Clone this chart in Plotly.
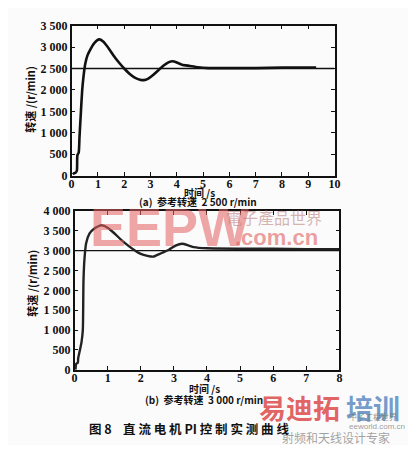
import plotly.graph_objects as go

# ---- data ----
t_a = [0.05, 0.1, 0.15, 0.2, 0.22, 0.27, 0.3, 0.35, 0.4, 0.45, 0.52, 0.6, 0.7, 0.87,
       1.05, 1.2, 1.4, 1.6, 1.8, 2.0, 2.2, 2.4, 2.6, 2.75, 2.9, 3.1, 3.3, 3.5, 3.7,
       3.85, 4.0, 4.2, 4.5, 4.8, 5.2, 6.0, 7.0, 8.0, 9.0, 9.3]
n_a = [30, 60, 70, 120, 474, 540, 900, 1445, 1970, 2300, 2610, 2800, 2930, 3100,
       3180, 3130, 2980, 2800, 2640, 2500, 2380, 2290, 2240, 2230, 2260, 2350, 2460, 2570, 2650,
       2670, 2640, 2590, 2560, 2530, 2510, 2510, 2510, 2520, 2520, 2520]
ref_a = 2500

t_b = [0.03, 0.05, 0.1, 0.11, 0.16, 0.21, 0.25, 0.27, 0.3, 0.35, 0.45, 0.6, 0.82,
       1.0, 1.2, 1.4, 1.6, 1.8, 2.0, 2.2, 2.37, 2.6, 2.86, 3.05, 3.25, 3.45, 3.6,
       4.0, 5.0, 6.0, 7.0, 8.0]
n_b = [0, 150, 180, 290, 485, 690, 1000, 2230, 2790, 3190, 3430, 3560, 3640,
       3580, 3440, 3280, 3140, 3020, 2920, 2870, 2850, 2930, 3030, 3130, 3175, 3130, 3090,
       3060, 3050, 3050, 3040, 3040]
ref_b = 3000

ticks_a_y = [0, 500, 1000, 1500, 2000, 2500, 3000, 3500]
ticks_a_x = list(range(0, 11))
ticks_b_y = [0, 500, 1000, 1500, 2000, 2500, 3000, 3500, 4000]
ticks_b_x = list(range(0, 9))


def lab(v):
    return f"{v:,}".replace(",", " ")


# page has the browser's default 8px body margin: figure is sized to fit inside it
OFF = 8
W, H = 400, 437
fx = lambda px: (px - OFF) / W
fy = lambda py: 1 - (py - OFF) / H

fig = go.Figure()
fig.add_trace(go.Scatter(x=[0, 10], y=[ref_a, ref_a], mode="lines",
                         line=dict(color="#111", width=1.3), xaxis="x", yaxis="y", showlegend=False))
fig.add_trace(go.Scatter(x=t_a, y=n_a, mode="lines", line=dict(color="#111", width=2.6, shape="spline", smoothing=0.6),
                         xaxis="x", yaxis="y", showlegend=False))
fig.add_trace(go.Scatter(x=[0, 8], y=[ref_b, ref_b], mode="lines",
                         line=dict(color="#111", width=1.3), xaxis="x2", yaxis="y2", showlegend=False))
fig.add_trace(go.Scatter(x=t_b, y=n_b, mode="lines", line=dict(color="#222", width=2.4, shape="spline", smoothing=0.6),
                         xaxis="x2", yaxis="y2", showlegend=False))

tickfont = dict(family="Liberation Serif", size=12, color="#111", weight="bold")
axcommon = dict(showgrid=False, zeroline=False, showline=True, linecolor="#111", linewidth=1.5,
                mirror="ticks", ticks="inside", ticklen=4, tickcolor="#111", tickwidth=1.2,
                tickfont=tickfont)

fig.update_layout(
    width=W, height=H, margin=dict(l=0, r=0, t=0, b=0),
    paper_bgcolor="#fbfbfb", plot_bgcolor="#fbfbfb",
    xaxis=dict(domain=[fx(70), fx(339)], range=[0, 10], anchor="y", ticklabelstandoff=-4,
               tickvals=ticks_a_x, ticktext=[str(v) for v in ticks_a_x], **axcommon),
    yaxis=dict(domain=[fy(174), fy(19)], range=[0, 3500], anchor="x",
               tickvals=ticks_a_y, ticktext=[lab(v) for v in ticks_a_y], **axcommon),
    xaxis2=dict(domain=[fx(73), fx(344)], range=[0, 8], anchor="y2", ticklabelstandoff=-4,
                tickvals=ticks_b_x, ticktext=[str(v) for v in ticks_b_x], **axcommon),
    yaxis2=dict(domain=[fy(374.5), fy(210.5)], range=[0, 4000], anchor="x2",
                tickvals=ticks_b_y, ticktext=[lab(v) for v in ticks_b_y], **axcommon),
)

cjk = "Noto Sans CJK SC"


def ann(text, x, y, size=11, color="#111", family=cjk, weight="bold", angle=0, xanchor="center"):
    fig.add_annotation(text=text, x=fx(x), y=fy(y), xref="paper", yref="paper",
                       showarrow=False, xanchor=xanchor, yanchor="middle", textangle=angle,
                       font=dict(family=family, size=size, color=color, weight=weight))


# watermarks
ann("EEPW", 170, 227, size=54, color="rgba(225,95,95,0.55)", family="Liberation Sans")
ann("電子產品世界", 277, 217, size=16, color="rgba(190,130,130,0.6)", family="Noto Sans CJK TC", weight="normal")
ann(".com.cn", 280, 238, size=22, color="rgba(225,95,95,0.6)", family="Liberation Sans")
ann("易迪拓", 303, 414, size=27, color="rgba(220,60,60,0.8)")
ann("培训", 378, 414, size=27, color="rgba(80,130,190,0.8)")
ann("中子工程世界", 378, 423, size=8, color="rgba(120,120,120,0.8)", weight="normal")
ann("eeworld.com.cn", 382, 433, size=8, color="rgba(130,130,130,0.8)", family="Liberation Sans", weight="normal")
ann("射频和天线设计专家", 340, 444, size=12, color="rgba(120,120,120,0.7)", weight="normal")

# axis titles and captions
ann("转速 /(r/min)", 28, 95, size=11, angle=-90)
ann("转速 /(r/min)", 30, 285, size=11, angle=-90)
ann("时间 /s", 201, 191, size=10)
ann("时间 /s", 206, 394, size=10)
ann("(a)  参考转速  2 500 r/min", 199, 201, size=10)
ann("(b)  参考转速  3 000 r/min", 205, 405, size=10)
ann("图 8  &nbsp; 直 流 电 机 PI 控 制 实 测 曲 线", 190, 435, size=12.5)

fig.write_html("out.html")
